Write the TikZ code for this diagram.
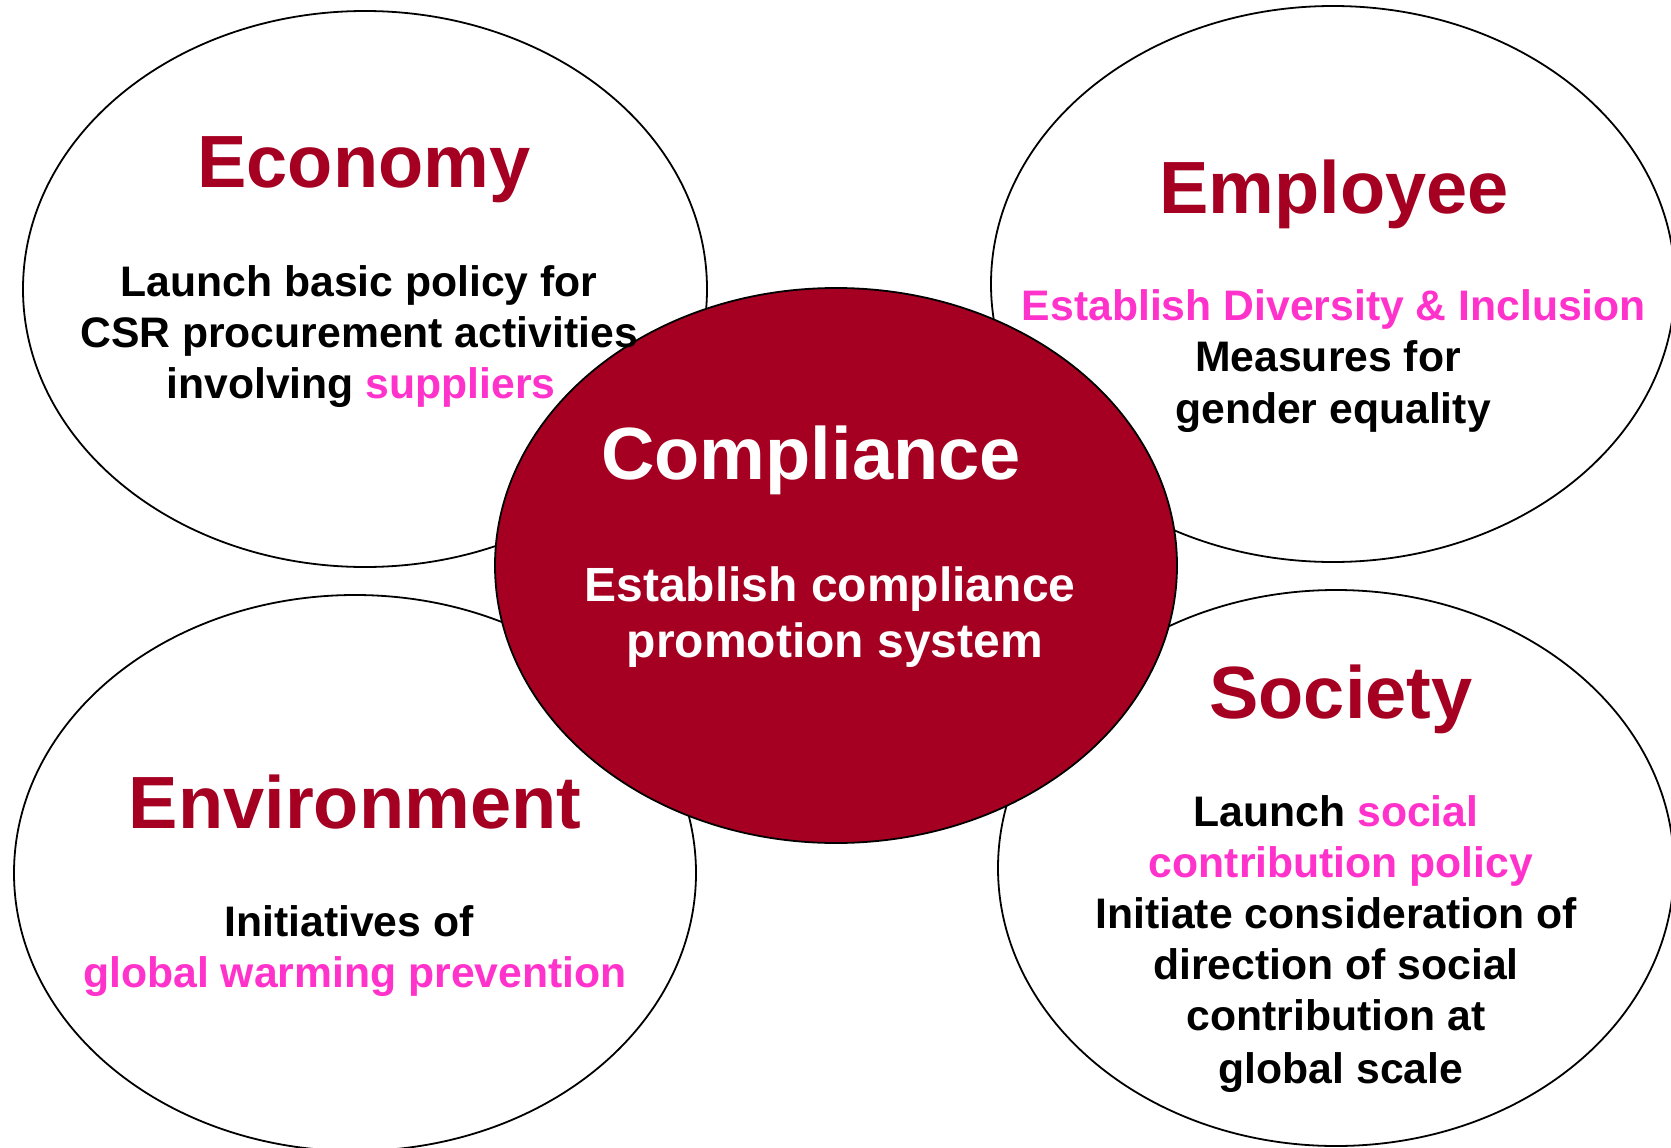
\documentclass[tikz,border=0pt]{standalone}
\usepackage{fontspec}
\setmainfont{Liberation Sans}
\definecolor{cred}{RGB}{165,0,33}
\definecolor{cpink}{RGB}{255,51,204}
\begin{document}
\begin{tikzpicture}[x=1pt,y=-1pt,
  bubble/.style={draw=black,line width=1.8pt,fill=white},
  core/.style={draw=black,line width=1.8pt,fill=cred},
  title/.style={anchor=base,inner sep=0pt,font=\fontsize{74}{88}\selectfont\bfseries,text=cred},
  body/.style={anchor=base,inner sep=0pt,font=\fontsize{42.7}{50}\selectfont\bfseries,text=black},
  corebody/.style={anchor=base,inner sep=0pt,font=\fontsize{48}{56}\selectfont\bfseries,text=white}]
\useasboundingbox (0,0) rectangle (1671,1148);
\begin{scope}
\clip (0,0) rectangle (1671,1148);
\draw[bubble] (365,289) ellipse [x radius=342, y radius=278];
\draw[bubble] (1333,284) ellipse [x radius=342, y radius=278];
\draw[bubble] (355,873) ellipse [x radius=341, y radius=278];
\draw[bubble] (1336,868) ellipse [x radius=338, y radius=278];
\draw[core] (836,565.5) ellipse [x radius=341, y radius=277.5];
\end{scope}
% Economy
\node[title] (ecoT) at (364,187) {Economy};
\node[body] (eco1) at (359,296) {Launch basic policy for};
\node[body] (eco2) at (359,347) {CSR procurement activities};
\node[body] (eco3) at (361,398) {involving \textcolor{cpink}{suppliers}};
% Employee
\node[title] (empT) at (1334,213) {Employee};
\node[body,text=cpink] (emp1) at (1334,320) {Establish Diversity \& Inclusion};
\node[body] (emp2) at (1328,371) {Measures for};
\node[body] (emp3) at (1333,423) {gender equality};
% Compliance
\node[title,text=white] (comT) at (811,479) {Compliance};
\node[corebody] (com1) at (830,601) {Establish compliance};
\node[corebody] (com2) at (835,657) {promotion system};
% Environment
\node[title] (envT) at (355,828) {Environment};
\node[body] (env1) at (349,936) {Initiatives of};
\node[body,text=cpink] (env2) at (355,987) {global warming prevention};
% Society
\node[title] (socT) at (1341,718) {Society};
\node[body] (soc1) at (1336,826) {Launch \textcolor{cpink}{social}};
\node[body,text=cpink] (soc2) at (1341,877) {contribution policy};
\node[body] (soc3) at (1336,928) {Initiate consideration of};
\node[body] (soc4) at (1336,979) {direction of social};
\node[body] (soc5) at (1336,1030) {contribution at};
\node[body] (soc6) at (1341,1083) {global scale};
\end{tikzpicture}
\end{document}
